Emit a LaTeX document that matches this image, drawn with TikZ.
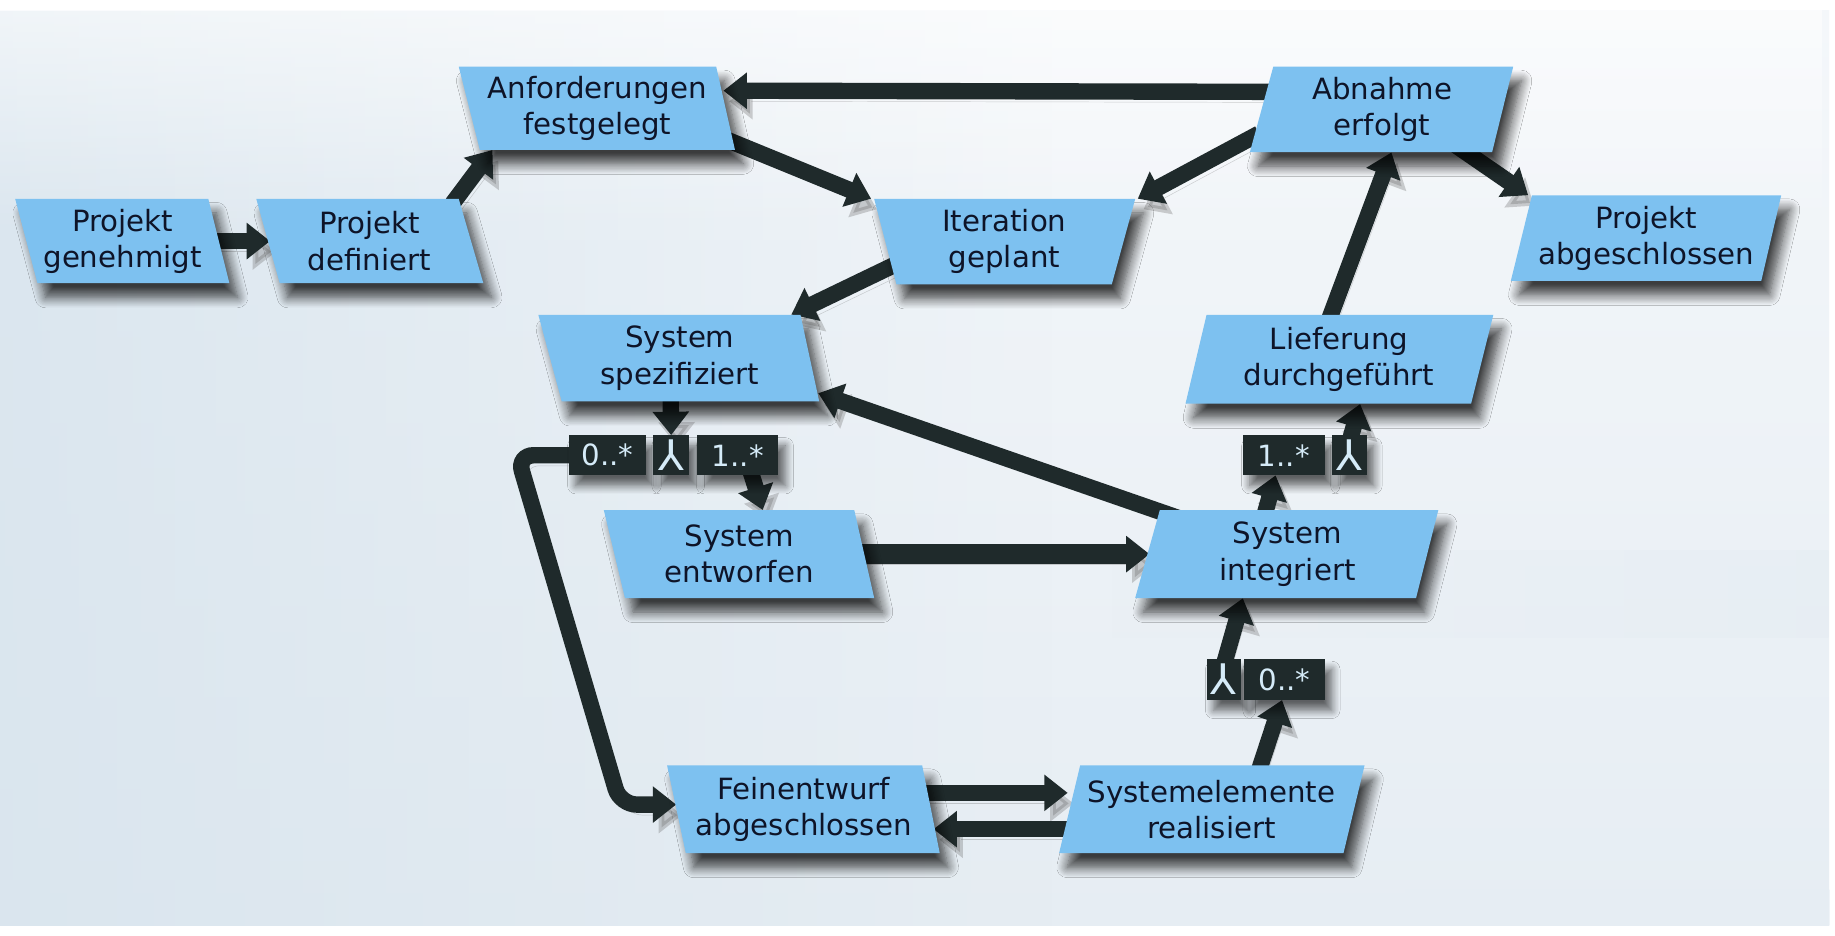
\documentclass[tikz,border=0pt]{standalone}
\usepackage{fontspec}
\setmainfont{DejaVu Sans}
\newfontfamily\symfont{DejaVu Sans}
\usetikzlibrary{arrows.meta,shadows.blur,calc,fadings}
\definecolor{boxblue}{HTML}{7DC1F0}
\definecolor{arrowdark}{HTML}{1F2A2B}
\definecolor{txtdark}{HTML}{0E1428}
\definecolor{multtxt}{HTML}{D5EBF8}
\definecolor{bgtop}{HTML}{F4F7FA}
\definecolor{bgbot}{HTML}{E6EDF3}
\definecolor{bgleft}{HTML}{D9E5EE}
\definecolor{bgband}{HTML}{C9D3DB}
\tikzset{
  boxfill/.style={fill=boxblue, blur shadow={shadow xshift=7pt, shadow yshift=-12pt, shadow blur radius=9pt, shadow opacity=75, shadow blur steps=10}},
  lbl/.style={align=center, inner sep=0pt, text=txtdark, font=\fontsize{25}{31}\selectfont},
  mult/.style={fill=arrowdark, text=multtxt, inner sep=0pt, minimum height=34pt,
     font=\fontsize{25}{25}\selectfont,
     blur shadow={shadow xshift=6pt, shadow yshift=-9pt, shadow blur radius=7pt, shadow opacity=60, shadow blur steps=8}},
  andsym/.style={font=\symfont\fontsize{36}{36}\selectfont},
  arr/.style={draw=arrowdark, line width=14pt, -{Triangle[length=20pt,width=30pt]},
     preaction={draw=black!60, opacity=0.3, transform canvas={shift={(5pt,-9pt)}}}},
}
\newcommand\vmbox[6]{\fill[boxfill] (#1,#5) -- (#2,#5) -- (#4,#6) -- (#3,#6) -- cycle;}
\begin{document}
\begin{tikzpicture}[x=1pt,y=-1pt]
\useasboundingbox (0,0) rectangle (1568,799);
% background
\fill[white] (0,0) rectangle (1568,799);
\shade[top color=bgtop, bottom color=bgbot] (0,9) rectangle (1563,791);
\fill[bgleft, path fading=east, opacity=0.9] (0,9) rectangle (900,791);
\fill[white, path fading=south, opacity=0.6] (0,9) rectangle (1563,200);
\shade[top color=bgbot, middle color=bgband, bottom color=bgbot, path fading=west, opacity=0.7] (950,470) rectangle (1563,545);
\shade[top color=bgbot, middle color=bgband, bottom color=bgbot, path fading=west, opacity=0.5] (1200,760) rectangle (1563,791);

% label nodes (positions and sizes of the boxes)
\node[lbl, minimum width=164.5pt, minimum height=72pt] (PG) at (104.75,206) {\phantom{Projekt}\\\phantom{genehmigt}};
\node[lbl, minimum width=173.5pt, minimum height=72pt] (PD) at (315.75,206) {\phantom{Projekt}\\\phantom{definiert}};
\node[lbl, minimum width=219pt, minimum height=71pt] (AF) at (510.5,92.5) {\phantom{Anforderungen}\\\phantom{festgelegt}};
\node[lbl, minimum width=206pt, minimum height=73pt] (AE) at (1181,93.5) {\phantom{Abnahme}\\\phantom{erfolgt}};
\node[lbl, minimum width=203.5pt, minimum height=73pt] (IG) at (858.25,206.5) {\phantom{Iteration}\\\phantom{geplant}};
\node[lbl, minimum width=213.5pt, minimum height=73pt] (PA) at (1406.75,203.5) {\phantom{Projekt}\\\phantom{abgeschlossen}};
\node[lbl, minimum width=222pt, minimum height=74pt] (SS) at (581,306) {\phantom{System}\\\phantom{spezifiziert}};
\node[lbl, minimum width=244.5pt, minimum height=76pt] (LD) at (1144.25,307) {\phantom{Lieferung}\\\phantom{durchgeführt}};
\node[lbl, minimum width=213.5pt, minimum height=75pt] (SE) at (631.75,473.5) {\phantom{System}\\\phantom{entworfen}};
\node[lbl, minimum width=239pt, minimum height=75pt] (SI) at (1100,473.5) {\phantom{System}\\\phantom{integriert}};
\node[lbl, minimum width=217.5pt, minimum height=75pt] (FA) at (686.75,691.5) {\phantom{Feinentwurf}\\\phantom{abgeschlossen}};
\node[lbl, minimum width=243.5pt, minimum height=75pt] (SR) at (1035.25,691.5) {\phantom{Systemelemente}\\\phantom{realisiert}};
\coordinate (m0p) at (519,389);
\coordinate (mAp) at (573.5,389);
\coordinate (m1p) at (630.5,389);
\coordinate (r1p) at (1097,389);
\coordinate (rAp) at (1153,389);
\coordinate (bAp) at (1045.5,580.5);
\coordinate (b0p) at (1097.5,580.5);
\node[inner sep=0pt, minimum width=66pt, minimum height=34pt] (m0) at (m0p) {};
\node[inner sep=0pt, minimum width=31pt, minimum height=34pt] (mA) at (mAp) {};
\node[inner sep=0pt, minimum width=69pt, minimum height=34pt] (m1) at (m1p) {};
\node[inner sep=0pt, minimum width=70pt, minimum height=34pt] (r1) at (r1p) {};
\node[inner sep=0pt, minimum width=30pt, minimum height=34pt] (rA) at (rAp) {};
\node[inner sep=0pt, minimum width=29pt, minimum height=35pt] (bA) at (bAp) {};
\node[inner sep=0pt, minimum width=69pt, minimum height=35pt] (b0) at (b0p) {};
\coordinate (c1) at (442,389);
\coordinate (c2) at (530,687.5);

% connectors
\draw[arr] ([xshift=-6pt]PG.east) -- ([xshift=2pt]PD.west);
\draw[arr] ([xshift=-16pt,yshift=-4pt]PD.north east) -- ([xshift=20pt]AF.south west);
\draw[arr] ([xshift=14pt,yshift=15pt]AE.west) -- ([xshift=-2pt,yshift=15pt]AF.east);
\draw[arr] ([xshift=-2pt,yshift=10pt]AF.south east) -- ([xshift=-12pt]IG.north west);
\draw[arr] ([xshift=-2pt,yshift=16pt]AE.south west) -- ([xshift=12pt]IG.north east);
\draw[arr] ([xshift=-46pt,yshift=10pt]AE.south east) -- ([xshift=6pt]PA.north west);
\draw[arr] ([xshift=16pt,yshift=-16pt]IG.west) -- ([xshift=-16pt]SS.north east);
\draw[arr] ([xshift=-10pt,yshift=-8pt]LD.north) -- ([xshift=8pt]AE.south);
\draw[arr] ([xshift=30pt,yshift=-8pt]SI.north west) -- ([xshift=7pt,yshift=-30pt]SS.east);
\draw[arr] ([xshift=-8pt,yshift=8pt]SS.south) -- (mA.north);
\draw[arr] ([xshift=10pt,yshift=6pt]m1.south) -- ([xshift=20pt]SE.north);
\draw[arr, rounded corners=14pt] ([xshift=6pt]m0.west) -- (c1) -- (c2) -- ([yshift=4pt]FA.west);
\draw[arr, line width=17pt] ([xshift=-6pt]SE.east) -- ([xshift=2pt]SI.west);
\draw[arr] ([xshift=-20pt,yshift=-6pt]SI.north) -- ([xshift=-7pt]r1.south);
\draw[arr] ([yshift=-6pt]rA.north) -- ([xshift=18pt]LD.south);
\draw[arr] ([xshift=-6pt,yshift=14pt]FA.east) -- ([xshift=-1pt,yshift=14pt]SR.west);
\draw[arr] ([xshift=6pt,yshift=-17pt]SR.west) -- ([xshift=2pt,yshift=-17pt]FA.east);
\draw[arr] ([xshift=40pt,yshift=-6pt]SR.north) -- ([xshift=-2pt]b0.south);
\draw[arr] ([yshift=-6pt]bA.north) -- ([xshift=-38pt]SI.south);

% boxes
\vmbox{13}{178}{32}{196}{170}{242}
\vmbox{219}{392}{239}{413}{170}{242}
\vmbox{392}{612}{410}{628}{57}{128}
\vmbox{1088}{1293}{1068}{1275}{57}{130}
\vmbox{747}{970}{766}{950}{170}{243}
\vmbox{1309}{1522}{1291}{1505}{167}{240}
\vmbox{460}{684}{480}{700}{269}{343}
\vmbox{1031}{1276}{1013}{1257}{269}{345}
\vmbox{516}{730}{534}{747}{436}{511}
\vmbox{991}{1229}{970}{1210}{436}{511}
\vmbox{570}{788}{586}{803}{654}{729}
\vmbox{923}{1166}{905}{1148}{654}{729}

% texts
\node[lbl] at (PG) {Projekt\\genehmigt};
\node[lbl] at (PD) {Projekt\\definiert};
\node[lbl] at (AF) {Anforderungen\\festgelegt};
\node[lbl] at (AE) {Abnahme\\erfolgt};
\node[lbl] at (IG) {Iteration\\geplant};
\node[lbl] at (PA) {Projekt\\abgeschlossen};
\node[lbl] at (SS) {System\\spezifiziert};
\node[lbl] at (LD) {Lieferung\\durchgeführt};
\node[lbl] at (SE) {System\\entworfen};
\node[lbl] at (SI) {System\\integriert};
\node[lbl] at (FA) {Feinentwurf\\abgeschlossen};
\node[lbl] at (SR) {Systemelemente\\realisiert};

% multiplicity boxes
\node[mult, minimum width=66pt] at (m0p) {0..*};
\node[mult, andsym, minimum width=31pt] at (mAp) {⅄};
\node[mult, minimum width=69pt] at (m1p) {1..*};
\node[mult, minimum width=70pt] at (r1p) {1..*};
\node[mult, andsym, minimum width=30pt] at (rAp) {⅄};
\node[mult, andsym, minimum width=29pt, minimum height=35pt] at (bAp) {⅄};
\node[mult, minimum width=69pt, minimum height=35pt] at (b0p) {0..*};
\end{tikzpicture}
\end{document}
